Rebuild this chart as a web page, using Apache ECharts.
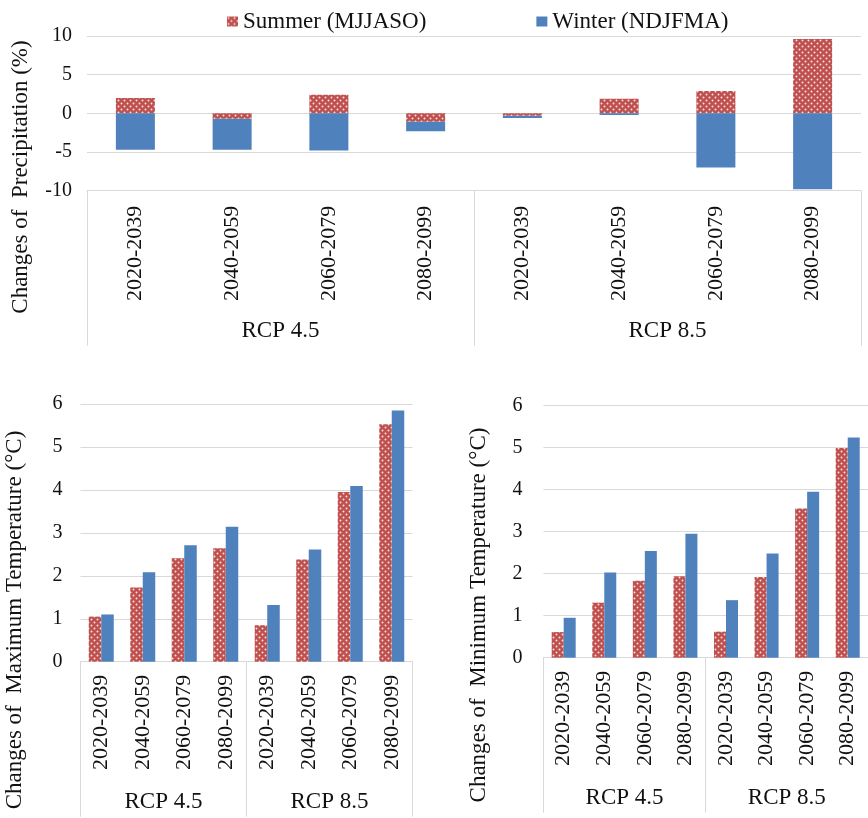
<!DOCTYPE html>
<html>
<head>
<meta charset="utf-8">
<script src="https://cdn.jsdelivr.net/npm/echarts@6/dist/echarts.min.js"></script>
<style>html,body{margin:0;padding:0;background:#fff;}#c{width:868px;height:818px;}</style>
</head>
<body>
<div id="c"></div>
<script>
// ---- data ----
const periods = ['2020-2039', '2040-2059', '2060-2079', '2080-2099'];
const scenarios = ['RCP 4.5', 'RCP 8.5'];
const seriesNames = ['Summer (MJJASO)', 'Winter (NDJFMA)'];
// Precipitation change (%), stacked (RCP 4.5 x4, RCP 8.5 x4)
const precipSummer = [2.0, -0.7, 2.4, -1.1, -0.3, 1.9, 2.9, 9.6];
const precipWinter = [-4.7, -4.0, -4.8, -1.2, -0.3, -0.2, -7.0, -9.8];
// Maximum temperature change (°C)
const tmaxSummer = [1.05, 1.73, 2.41, 2.64, 0.85, 2.38, 3.95, 5.53];
const tmaxWinter = [1.10, 2.08, 2.71, 3.14, 1.32, 2.61, 4.09, 5.85];
// Minimum temperature change (°C)
const tminSummer = [0.61, 1.31, 1.83, 1.94, 0.62, 1.92, 3.55, 4.99];
const tminWinter = [0.95, 2.03, 2.54, 2.95, 1.37, 2.48, 3.95, 5.24];
const yTitles = ['Changes of  Precipitation (%)', 'Changes of  Maximum Temperature (°C)', 'Changes of  Minimum Temperature (°C)'];

const categories = scenarios.flatMap(() => periods);
const FONT = '"Liberation Serif", "Times New Roman", serif';
const GRAY = '#d9d9d9';
const TXT = '#111';

function makePattern() {
  const c = document.createElement('canvas');
  c.width = 6; c.height = 6;
  const g = c.getContext('2d');
  g.fillStyle = '#c0504d';
  g.fillRect(0, 0, 6, 6);
  g.fillStyle = 'rgba(255,255,255,0.85)';
  [[1.5, 1.5], [4.5, 4.5]].forEach(p => {
    g.beginPath(); g.arc(p[0], p[1], 0.95, 0, Math.PI * 2); g.fill();
  });
  return c;
}
const summerColor = { image: makePattern(), repeat: 'repeat' };
const winterColor = '#4f81bd';

const grids = [
  { left: 87, width: 774, top: 36, height: 154.7 },
  { left: 80.5, width: 332, top: 404, height: 257.7 },
  { left: 543.4, width: 329.6, top: 405.7, height: 252 }
];
const yLabelMargin = [15, 18, 21];

const xAxes = [], yAxes = [];
grids.forEach((g, i) => {
  xAxes.push({
    type: 'category', gridIndex: i, data: categories, position: 'bottom',
    axisLine: { show: true, onZero: false, lineStyle: { color: GRAY, width: 1 } },
    axisTick: { show: false },
    axisLabel: { interval: 0, rotate: 90, margin: i === 0 ? 15 : 13, fontSize: 22, fontFamily: FONT, color: TXT }
  });
  xAxes.push({
    type: 'category', gridIndex: i, data: scenarios, position: 'bottom',
    axisLine: { show: false, onZero: false },
    axisTick: { show: true, interval: 0, length: 155, lineStyle: { color: GRAY, width: 1 } },
    axisLabel: { interval: 0, margin: 129, fontSize: 23, fontFamily: FONT, color: TXT }
  });
  yAxes.push({
    type: 'value', gridIndex: i,
    min: i === 0 ? -10 : 0, max: i === 0 ? 10 : 6, interval: i === 0 ? 5 : 1,
    axisLine: { show: false }, axisTick: { show: false },
    splitLine: { show: true, lineStyle: { color: GRAY, width: 1 } },
    axisLabel: { margin: yLabelMargin[i], fontSize: 20, fontFamily: FONT, color: TXT }
  });
});

const series = [
  { name: seriesNames[0], type: 'bar', xAxisIndex: 0, yAxisIndex: 0, stack: 'p', barWidth: 39, data: precipSummer, itemStyle: { color: summerColor } },
  { name: seriesNames[1], type: 'bar', xAxisIndex: 0, yAxisIndex: 0, stack: 'p', barWidth: 39, data: precipWinter, itemStyle: { color: winterColor } },
  { name: seriesNames[0], type: 'bar', xAxisIndex: 2, yAxisIndex: 1, barWidth: 12.5, barGap: '0%', data: tmaxSummer, itemStyle: { color: summerColor } },
  { name: seriesNames[1], type: 'bar', xAxisIndex: 2, yAxisIndex: 1, barWidth: 12.5, barGap: '0%', data: tmaxWinter, itemStyle: { color: winterColor } },
  { name: seriesNames[0], type: 'bar', xAxisIndex: 4, yAxisIndex: 2, barWidth: 12, barGap: '0%', data: tminSummer, itemStyle: { color: summerColor } },
  { name: seriesNames[1], type: 'bar', xAxisIndex: 4, yAxisIndex: 2, barWidth: 12, barGap: '0%', data: tminWinter, itemStyle: { color: winterColor } }
];

const titlePos = [[21, 177], [15, 620], [479, 615]];
const graphic = yTitles.map((t, i) => ({
  type: 'text', x: titlePos[i][0], y: titlePos[i][1], rotation: Math.PI / 2,
  style: { text: t, fontSize: 23, fontFamily: FONT, fill: TXT, align: 'center', verticalAlign: 'middle' }
}));

const chart = echarts.init(document.getElementById('c'), null, { renderer: 'canvas' });
chart.setOption({
  animation: false,
  backgroundColor: '#fff',
  legend: {
    data: seriesNames, left: 222, top: 5, itemWidth: 11, itemHeight: 10, itemGap: 110,
    icon: 'rect', textStyle: { fontSize: 23, fontFamily: FONT, color: TXT }
  },
  grid: grids,
  xAxis: xAxes,
  yAxis: yAxes,
  series: series,
  graphic: graphic
});
</script>
</body>
</html>
